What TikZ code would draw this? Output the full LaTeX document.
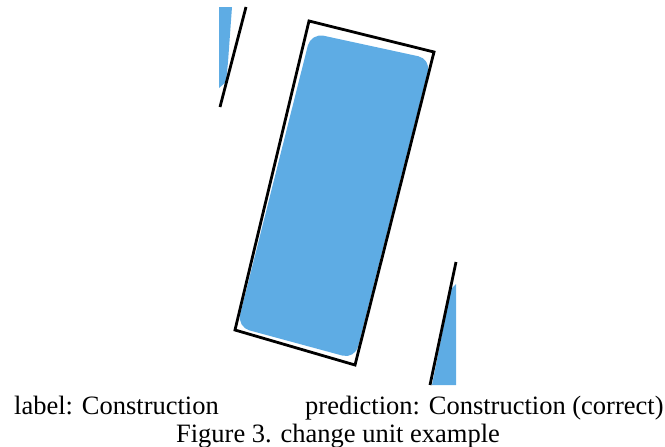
\documentclass[tikz,border=0pt]{standalone}
\usepackage{fontspec}
\setmainfont{Liberation Serif}
\usepackage{tikz}
\definecolor{maskblue}{RGB}{94,172,228}

\begin{document}
\begin{tikzpicture}[x=1pt, y=-1pt]

    % Define styles
    \tikzstyle{mask} = [fill=maskblue, draw=none]
    \tikzstyle{outline} = [draw=black, line width=2.8pt]
    \tikzstyle{caption} = [anchor=base west, inner sep=0pt, font=\fontsize{26.5}{30}\selectfont]

    \useasboundingbox (0,0) rectangle (665,447);

    % Neighbouring change units cut by the image border
    \fill[mask] (219,7) -- (232,7) -- (228,62) -- (226,82) -- (219,88) -- cycle;
    \draw[outline] (246,7) -- (220,107);
    \fill[mask] (451,289) -- (456,284) -- (456,385) -- (432,385) -- cycle;
    \draw[outline] (456,262) -- (430,385);

    % Predicted change unit and its bounding box
    \fill[mask, rounded corners=13pt]
        (311,33) -- (431,59) -- (355,359) -- (237,327) -- cycle;
    \draw[outline] (309,21) -- (434,52) -- (355,365) -- (235,330) -- cycle;

    % Captions
    \node[caption] (label) at (14,414) {label: Construction};
    \node[caption] (prediction) at (305,414) {prediction: Construction (correct)};
    \node[caption, anchor=base] (figcap) at (338,442) {Figure 3. change unit example};

\end{tikzpicture}
\end{document}
